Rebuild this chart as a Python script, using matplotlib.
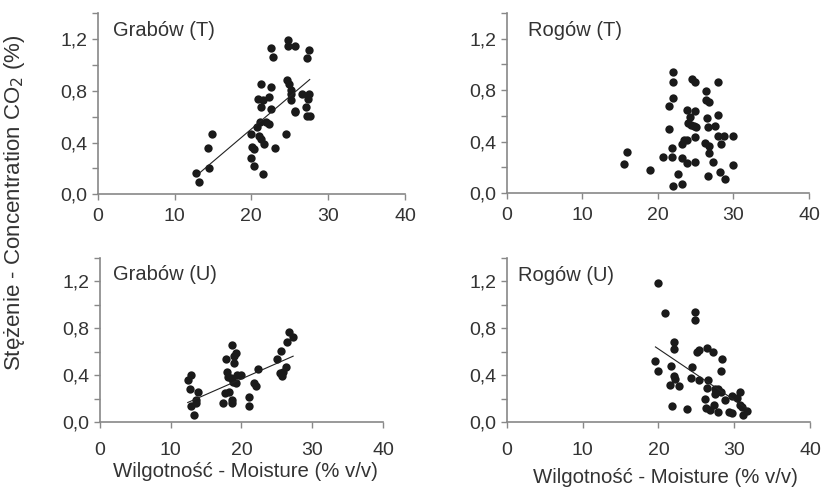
import numpy as np
import matplotlib
matplotlib.use('Agg')
import matplotlib.pyplot as plt

# --- Grabów (T) ---
GT_X = [12.8, 13.2, 14.5, 14.3, 14.9, 20.0, 20.1, 20.3, 20.0, 20.4, 21.5, 20.7,
        20.95, 21.2, 21.6, 21.1, 21.9, 22.3, 20.9, 21.5, 21.3, 21.2, 22.6, 22.3,
        22.6, 23.1, 24.5, 22.6, 22.8, 24.8, 24.8, 25.7, 27.5, 27.2, 24.6, 24.9,
        25.1, 25.2, 25.2, 25.7, 25.7, 26.6, 27.5, 27.4, 27.1, 27.2, 27.6]
GT_Y = [0.162, 0.098, 0.206, 0.361, 0.466, 0.464, 0.369, 0.348, 0.283, 0.222, 0.160, 0.518,
        0.451, 0.425, 0.389, 0.559, 0.559, 0.544, 0.737, 0.729, 0.673, 0.853, 0.832, 0.755,
        0.662, 0.361, 0.466, 1.129, 1.057, 1.193, 1.147, 1.147, 1.116, 1.049, 0.881, 0.851,
        0.807, 0.773, 0.729, 0.647, 0.637, 0.773, 0.771, 0.737, 0.673, 0.606, 0.606]
GT_FIT = (0.0503, -0.502)

# --- Rogów (T) ---
RT_X = [15.5, 15.9, 19.0, 20.6, 21.8, 21.8, 21.4, 21.4, 22.0, 22.0, 22.0, 22.0,
        22.6, 23.2, 23.2, 23.2, 23.4, 23.9, 23.8, 23.8, 24.2, 24.0, 24.4, 24.8,
        25.1, 24.9, 24.9, 24.9, 24.5, 24.9, 26.4, 26.4, 26.8, 26.5, 26.6, 26.2,
        26.8, 26.8, 27.3, 26.6, 27.6, 27.9, 27.9, 28.0, 28.4, 28.7, 28.2, 28.9,
        29.9, 29.9]
RT_Y = [0.224, 0.316, 0.177, 0.282, 0.282, 0.352, 0.498, 0.676, 0.738, 0.864, 0.942, 0.055,
        0.146, 0.070, 0.274, 0.381, 0.412, 0.412, 0.230, 0.647, 0.590, 0.543, 0.530, 0.522,
        0.517, 0.634, 0.433, 0.243, 0.890, 0.864, 0.791, 0.725, 0.704, 0.582, 0.511, 0.386,
        0.365, 0.308, 0.243, 0.130, 0.522, 0.861, 0.446, 0.608, 0.381, 0.444, 0.164, 0.112,
        0.444, 0.217]

# --- Grabów (U) ---
GU_X = [12.4, 12.8, 12.75, 12.9, 13.3, 13.55, 13.6, 13.9, 17.8, 17.9, 17.7, 17.4,
        18.3, 18.6, 18.9, 19.2, 19.0, 18.1, 18.5, 18.8, 19.2, 19.3, 20.0, 18.7,
        18.7, 21.0, 21.0, 21.8, 22.0, 22.4, 25.0, 25.6, 25.5, 25.7, 25.9, 26.3,
        26.4, 26.7, 27.3]
GU_Y = [0.361, 0.404, 0.281, 0.139, 0.063, 0.190, 0.162, 0.256, 0.537, 0.432, 0.253, 0.168,
        0.262, 0.660, 0.566, 0.594, 0.503, 0.390, 0.375, 0.347, 0.333, 0.404, 0.404, 0.168,
        0.190, 0.219, 0.139, 0.333, 0.310, 0.452, 0.537, 0.611, 0.424, 0.395, 0.432, 0.475,
        0.682, 0.768, 0.725]
GU_FIT = (0.0265, -0.160)

# --- Rogów (U) ---
RU_X = [20.0, 20.8, 19.6, 20.0, 21.7, 22.1, 22.1, 21.5, 22.0, 22.2, 22.7, 21.8,
        23.8, 24.4, 24.3, 24.8, 24.8, 25.1, 25.4, 25.3, 26.4, 27.2, 26.6, 26.4,
        26.2, 26.3, 26.8, 27.4, 27.5, 27.9, 28.2, 28.4, 28.2, 27.3, 27.9, 28.8,
        29.3, 29.7, 29.7, 30.3, 30.7, 30.7, 31.0, 31.1, 31.7]
RU_Y = [1.191, 0.929, 0.526, 0.440, 0.483, 0.683, 0.626, 0.320, 0.391, 0.369, 0.306, 0.140,
        0.114, 0.469, 0.377, 0.940, 0.869, 0.597, 0.620, 0.363, 0.629, 0.600, 0.357, 0.291,
        0.197, 0.120, 0.106, 0.283, 0.243, 0.283, 0.257, 0.540, 0.440, 0.149, 0.091, 0.186,
        0.091, 0.077, 0.220, 0.206, 0.257, 0.149, 0.134, 0.063, 0.097]
RU_FIT = (-0.0435, 1.495)

PANELS = [
    ("Grabów (T)", GT_X, GT_Y, GT_FIT),
    ("Rogów (T)",  RT_X, RT_Y, None),
    ("Grabów (U)", GU_X, GU_Y, GU_FIT),
    ("Rogów (U)",  RU_X, RU_Y, RU_FIT),
]

X_TICKS = [0, 10, 20, 30, 40]
Y_TICKS = [0.0, 0.2, 0.4, 0.6, 0.8, 1.0, 1.2, 1.4]
Y_LABELS = ["0,0", "", "0,4", "", "0,8", "", "1,2", ""]
X_LABEL = "Wilgotność - Moisture (% v/v)"
Y_LABEL = "Stężenie - Concentration CO$_2$ (%)"

# axes rectangles (left, bottom, width, height), title anchor, x tick pad
RECTS = [
    (0.1184, 0.6018, 0.3725, 0.3716),
    (0.6145, 0.6045, 0.3661, 0.3689),
    (0.1212, 0.1346, 0.3430, 0.3367),
    (0.6145, 0.1346, 0.3673, 0.3367),
]
TITLE_POS = [(0.05, 0.906), (0.07, 0.90), (0.046, 0.90), (0.036, 0.895)]
XPAD = [5.5, 5.5, 10, 10]

plt.rcParams.update({
    "font.family": ["Liberation Sans", "DejaVu Sans"],
    "text.color": "#333333",
    "xtick.color": "#888888",
    "ytick.color": "#888888",
    "xtick.labelcolor": "#333333",
    "ytick.labelcolor": "#333333",
})

fig = plt.figure(figsize=(8.25, 4.88), dpi=100)

for (title, xs, ys, fit), rect, tpos, xpad in zip(PANELS, RECTS, TITLE_POS, XPAD):
    ax = fig.add_axes(rect)
    ax.plot(xs, ys, 'o', color='#1a1a1a', markersize=6, markeredgewidth=0)
    if fit is not None:
        x_reg = np.array([min(xs), max(xs)])
        ax.plot(x_reg, fit[0] * x_reg + fit[1], color='#222222', linewidth=0.8)
    ax.set_xlim(0, 40)
    ax.set_ylim(0, 1.4)
    ax.set_xticks(X_TICKS)
    ax.set_yticks(Y_TICKS)
    ax.set_yticklabels(Y_LABELS)
    ax.tick_params(direction='out', length=4.5, width=1, labelsize=14)
    ax.tick_params(axis='x', pad=xpad)
    ax.tick_params(axis='y', pad=3)
    for s in ['top', 'right']:
        ax.spines[s].set_visible(False)
    for s in ['left', 'bottom']:
        ax.spines[s].set_color('#888888')
        ax.spines[s].set_linewidth(1.2)
    ax.text(tpos[0], tpos[1], title, transform=ax.transAxes, fontsize=14.5,
            ha='left', va='center')
    ax.patch.set_visible(False)

fig.text(0.017, 0.584, Y_LABEL, rotation=90, fontsize=16,
         ha='center', va='center')
fig.text(0.298, 0.033, X_LABEL, fontsize=14.7, ha='center', va='center')
fig.text(0.807, 0.022, X_LABEL, fontsize=14.7, ha='center', va='center')

fig.savefig('out.png', dpi=100, facecolor='white')
